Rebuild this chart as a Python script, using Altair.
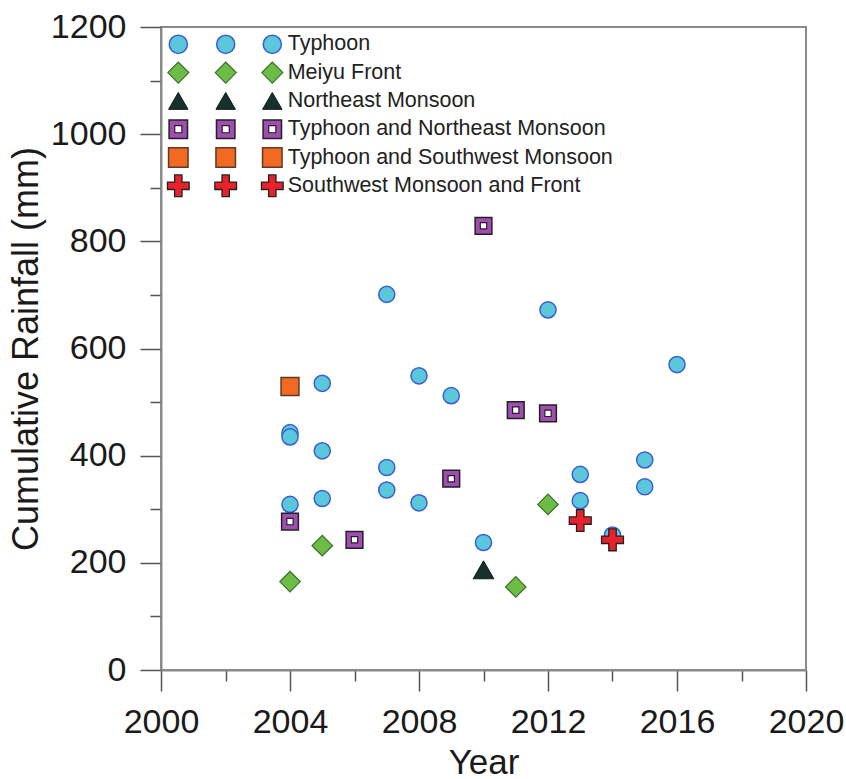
import altair as alt
import pandas as pd

# ---------------- data ----------------
categories = [
    "Typhoon",
    "Meiyu Front",
    "Northeast Monsoon",
    "Typhoon and Northeast Monsoon",
    "Typhoon and Southwest Monsoon",
    "Southwest Monsoon and Front",
]

typhoon_years = [2004, 2004, 2004, 2005, 2005, 2005, 2007, 2007, 2007, 2008,
                 2008, 2009, 2010, 2012, 2013, 2013, 2014, 2015, 2015, 2016]
typhoon_rain = [443, 435, 309, 535, 409, 320, 701, 378, 336, 549,
                312, 512, 238, 672, 365, 316, 252, 392, 342, 570]

meiyu_years = [2004, 2005, 2011, 2012]
meiyu_rain = [165, 232, 155, 309]

ne_years = [2010]
ne_rain = [187]

ty_ne_years = [2004, 2006, 2009, 2010, 2011, 2012]
ty_ne_rain = [277, 243, 357, 829, 485, 479]

ty_sw_years = [2004]
ty_sw_rain = [529]

sw_front_years = [2013, 2014]
sw_front_rain = [279, 243]

series = {
    "Typhoon": (typhoon_years, typhoon_rain),
    "Meiyu Front": (meiyu_years, meiyu_rain),
    "Northeast Monsoon": (ne_years, ne_rain),
    "Typhoon and Northeast Monsoon": (ty_ne_years, ty_ne_rain),
    "Typhoon and Southwest Monsoon": (ty_sw_years, ty_sw_rain),
    "Southwest Monsoon and Front": (sw_front_years, sw_front_rain),
}

# ---------------- layout / style ----------------
W, H = 645, 643
X0, X1 = 2000, 2020
Y0, Y1 = 0, 1200
FONT = "Liberation Sans"

CROSS = "M-0.34,-1H0.34V-0.34H1V0.34H0.34V1H-0.34V0.34H-1V-0.34H-0.34Z"

style = {
    "Typhoon": dict(shape="circle", fill="#5BC7DA", stroke="#3B5FD3", size=260, lsize=330, sw=1.5),
    "Meiyu Front": dict(shape="diamond", fill="#6CBD45", stroke="#3E6A2C", size=420, lsize=440, sw=1.2),
    "Northeast Monsoon": dict(shape="triangle-up", fill="#16302C", stroke="#0E1F1C", size=430, lsize=380, sw=1.0),
    "Typhoon and Northeast Monsoon": dict(shape="square", fill="#A14DB1", stroke="#222222", size=280, lsize=340, sw=1.5),
    "Typhoon and Southwest Monsoon": dict(shape="square", fill="#F26A22", stroke="#5A3A2A", size=320, lsize=380, sw=1.5),
    "Southwest Monsoon and Front": dict(shape=CROSS, fill="#E8222A", stroke="#222222", size=480, lsize=470, sw=1.3),
}


def px_year(px):
    return X0 + px / W * (X1 - X0)


def px_mm(py):
    return Y1 - py / H * (Y1 - Y0)


x_axis = alt.Axis(
    values=list(range(2000, 2021, 2)),
    labelExpr="datum.value % 4 == 0 ? '' + datum.value : ''",
    tickSize={"condition": {"test": "datum.value % 4 == 0", "value": 21}, "value": 11},
    grid=False,
    labelFlush=False,
    labelOverlap=False,
    title="Year",
)
y_axis = alt.Axis(
    values=list(range(0, 1201, 100)),
    labelExpr="datum.value % 200 == 0 ? '' + datum.value : ''",
    tickSize={"condition": {"test": "datum.value % 200 == 0", "value": 21}, "value": 11},
    grid=False,
    labelFlush=False,
    labelOverlap=False,
    title="Cumulative Rainfall (mm)",
)
X = alt.X("year:Q", scale=alt.Scale(domain=[X0, X1], nice=False, zero=False), axis=x_axis)
Y = alt.Y("value:Q", scale=alt.Scale(domain=[Y0, Y1], nice=False), axis=y_axis)

layers = []

# ---------------- data points ----------------
for cat in categories:
    yrs, vals = series[cat]
    d = pd.DataFrame({"year": yrs, "value": vals, "category": cat})
    s = style[cat]
    layers.append(
        alt.Chart(d).mark_point(
            shape=s["shape"], filled=True, fill=s["fill"], stroke=s["stroke"],
            strokeWidth=s["sw"], size=s["size"], opacity=1,
        ).encode(x=X, y=Y)
    )
    if cat == "Typhoon and Northeast Monsoon":
        layers.append(
            alt.Chart(d).mark_point(
                shape="square", filled=True, fill="white", stroke="#222222",
                strokeWidth=1.2, size=40, opacity=1,
            ).encode(x=X, y=Y)
        )

# ---------------- custom legend (three symbols per row) ----------------
sym_cols = [17.3, 64.7, 111.3]
text_col = 126.7
row0, row_step = 17.3, 28.3

for i, cat in enumerate(categories):
    s = style[cat]
    ly = px_mm(row0 + i * row_step)
    ld = pd.DataFrame({"year": [px_year(c) for c in sym_cols], "value": [ly] * 3})
    layers.append(
        alt.Chart(ld).mark_point(
            shape=s["shape"], filled=True, fill=s["fill"], stroke=s["stroke"],
            strokeWidth=s["sw"], size=s["lsize"], opacity=1,
        ).encode(x=X, y=Y)
    )
    if cat == "Typhoon and Northeast Monsoon":
        layers.append(
            alt.Chart(ld).mark_point(
                shape="square", filled=True, fill="white", stroke="#222222",
                strokeWidth=1.2, size=50, opacity=1,
            ).encode(x=X, y=Y)
        )
    td = pd.DataFrame({"year": [px_year(text_col)], "value": [ly], "label": [cat]})
    layers.append(
        alt.Chart(td).mark_text(
            align="left", baseline="middle", font=FONT, fontSize=21.5, color="#222222", dx=0,
        ).encode(x=X, y=Y, text="label:N")
    )

chart = alt.layer(*layers).properties(
    width=W, height=H,
    autosize=alt.AutoSizeParams(type="none"),
    padding={"left": 161, "top": 27, "right": 40, "bottom": 109},
).configure_view(
    stroke="#8A8A8A", strokeWidth=2,
).configure_axis(
    domainColor="#8A8A8A", domainWidth=2,
    tickColor="#555555", tickWidth=1.5,
    labelFont=FONT, labelFontSize=34, labelColor="#1A1A1A",
    titleFont=FONT, titleFontSize=35, titleColor="#1A1A1A", titleFontWeight="normal",
).configure_axisX(
    labelPadding=14, titlePadding=6,
).configure_axisY(
    labelPadding=14, titlePadding=5, titleFontSize=36,
)

chart.save("out.html", embed_options={"renderer": "svg", "actions": False})
